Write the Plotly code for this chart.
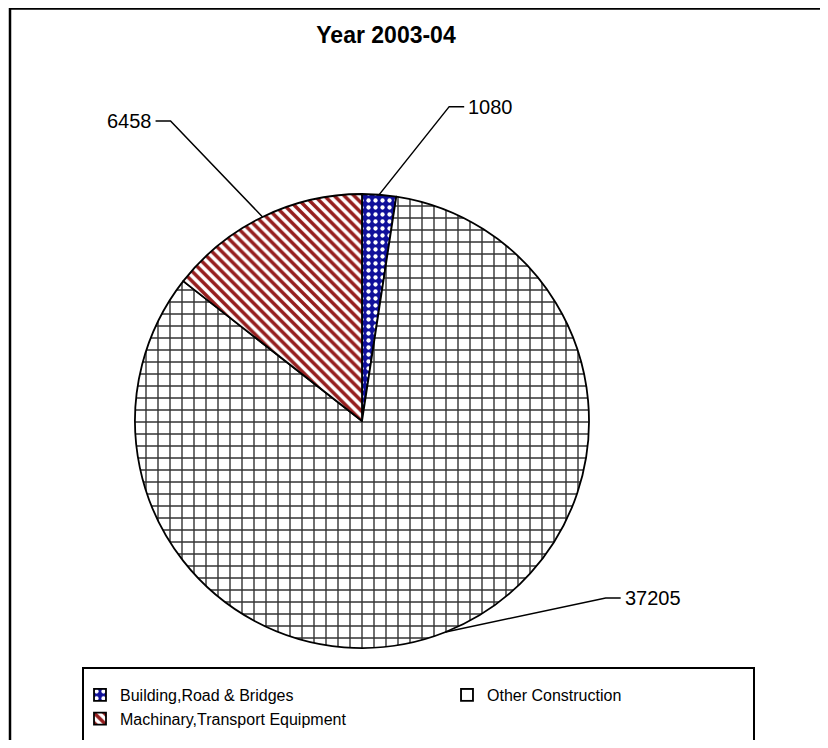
import math
import plotly.graph_objects as go

# ---- data ----
categories = ["Building,Road & Bridges", "Other Construction", "Machinary,Transport Equipment"]
values = [1080, 37205, 6458]
label_texts = ["1080", "37205", "6458"]
title_text = "Year 2003-04"

# ---- layout constants (screen pixels) ----
VW, VH = 828, 748
OFF = 8  # page body margin around the plot div
W, H = VW - 2 * OFF, VH - 2 * OFF
CX, CY, R = 362, 421, 227
FONT = "Arial, Liberation Sans, sans-serif"

# leader-line elbow offsets from rim point, and horizontal tick length
label_offsets = [(70, -88), (160, -34), (-92, -96)]
tick_len = 15


def px(x):
    return (x - OFF) / W


def py(y):
    return 1 - (y - OFF) / H


fig = go.Figure()
fig.add_trace(go.Pie(
    labels=categories,
    values=values,
    sort=False,
    direction="clockwise",
    rotation=0,
    textinfo="none",
    hoverinfo="label+value",
    domain=dict(x=[px(CX - R), px(CX + R)], y=[py(CY + R), py(CY - R)]),
    marker=dict(
        colors=["#10109a", "#ffffff", "#ffffff"],
        line=dict(color="black", width=1.8),
        pattern=dict(
            shape=[".", "+", "\\"],
            fgcolor=["#ffffff", "#333333", "#951e1e"],
            bgcolor=["#10109a", "#ffffff", "#ffffff"],
            size=[7, 12, 7],
            solidity=[0.3, 0.22, 0.5],
            fillmode="replace",
        ),
    ),
))

# leader lines + value labels computed from slice angles
total = sum(values)
cum = 0
shapes = []
annotations = []
for v, txt, (dx, dy) in zip(values, label_texts, label_offsets):
    mid = (cum + v / 2) / total * 2 * math.pi
    cum += v
    rx = CX + R * math.sin(mid)
    ry = CY - R * math.cos(mid)
    ex, ey = rx + dx, ry + dy
    sgn = 1 if dx > 0 else -1
    tx = ex + sgn * tick_len
    shapes.append(dict(
        type="path", xref="paper", yref="paper",
        path=f"M {px(rx)},{py(ry)} L {px(ex)},{py(ey)} L {px(tx)},{py(ey)}",
        line=dict(color="black", width=1.5),
    ))
    annotations.append(dict(
        x=px(tx + sgn * 2), y=py(ey), xref="paper", yref="paper",
        text=txt, showarrow=False,
        xanchor="left" if sgn > 0 else "right", yanchor="middle",
        font=dict(family=FONT, size=20, color="black"),
    ))

# outer chart border (left + top visible) and legend frame (left, top, right)
x_end, y_end = VW - OFF, VH - OFF
shapes.append(dict(type="path", xref="paper", yref="paper",
                   path=f"M {px(10)},{py(y_end)} L {px(10)},{py(8.5)} L {px(x_end)},{py(8.5)}",
                   line=dict(color="black", width=2.5)))
shapes.append(dict(type="path", xref="paper", yref="paper",
                   path=(f"M {px(83)},{py(y_end)} L {px(83)},{py(668)} "
                         f"L {px(754)},{py(668)} L {px(754)},{py(y_end)}"),
                   line=dict(color="black", width=2)))

fig.update_layout(
    width=W, height=H,
    margin=dict(l=0, r=0, t=0, b=0),
    paper_bgcolor="white", plot_bgcolor="white",
    title=dict(text=title_text, x=px(386), y=py(35), xanchor="center", yanchor="middle",
               xref="paper", yref="paper",
               font=dict(family=FONT, size=23, color="black", weight="bold")),
    showlegend=True,
    legend=dict(
        orientation="h",
        x=px(80), y=py(678), xanchor="left", yanchor="top",
        entrywidth=322, entrywidthmode="pixels",
        borderwidth=0, bgcolor="rgba(0,0,0,0)",
        font=dict(family=FONT, size=16, color="black"),
        traceorder="normal",
    ),
    shapes=shapes,
    annotations=annotations,
)

fig.write_html("out.html")
